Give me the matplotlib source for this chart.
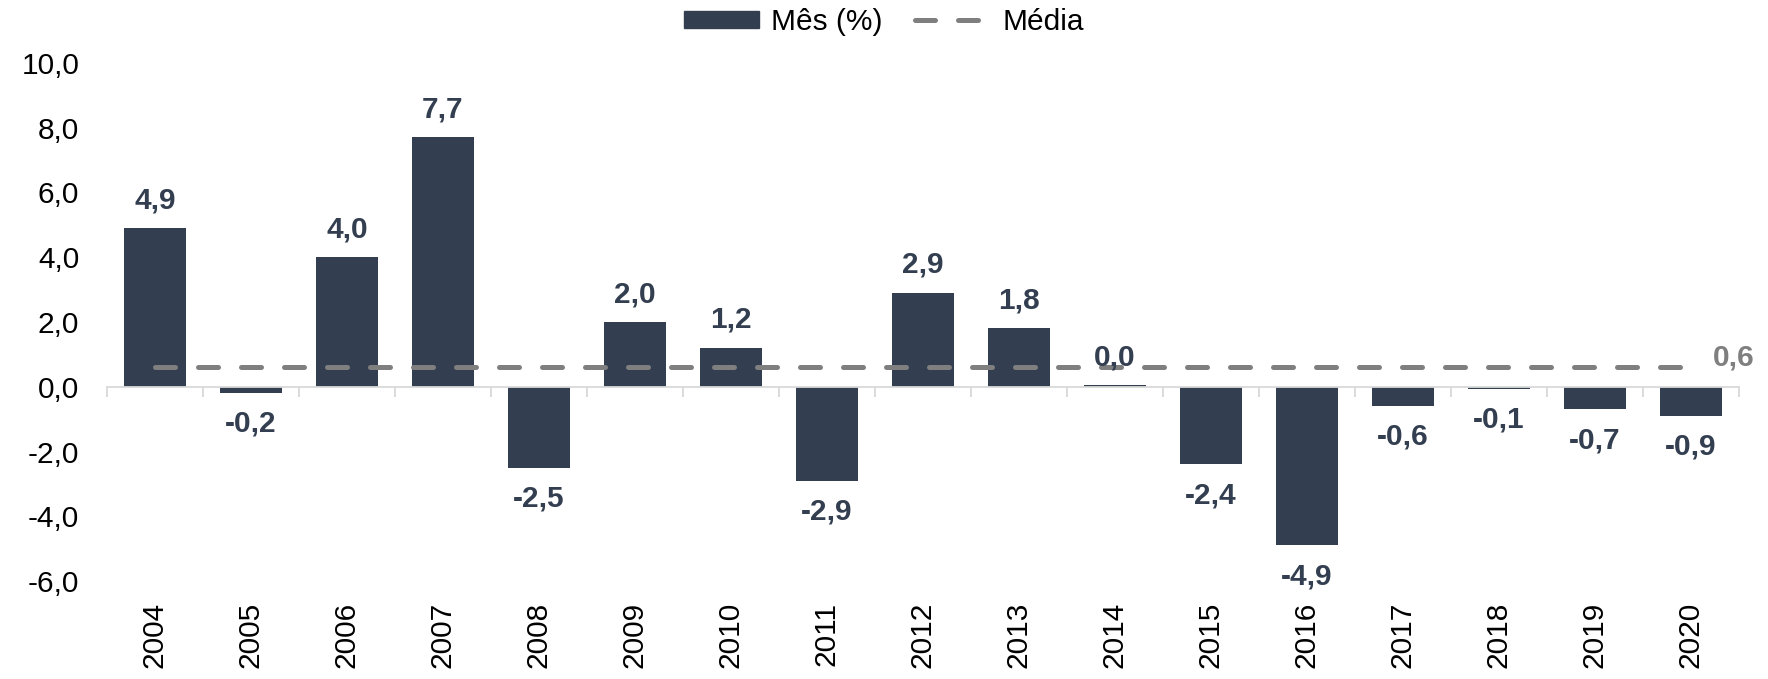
import numpy as np
import matplotlib
matplotlib.use("Agg")
import matplotlib.pyplot as plt
from matplotlib.patches import Patch
from matplotlib.lines import Line2D

years = ['2004', '2005', '2006', '2007', '2008', '2009', '2010', '2011', '2012',
         '2013', '2014', '2015', '2016', '2017', '2018', '2019', '2020']
mes = [4.9, -0.2, 4.0, 7.7, -2.5, 2.0, 1.2, -2.9, 2.9,
       1.8, 0.04, -2.4, -4.9, -0.6, -0.08, -0.7, -0.9]
media = 0.6
yticks = [-6, -4, -2, 0, 2, 4, 6, 8, 10]

navy = '#333F50'
grey = '#7F7F7F'
fs = 21.5
plt.rcParams['font.family'] = ['Liberation Sans', 'DejaVu Sans']

fig = plt.figure(figsize=(17.68, 6.79), dpi=100)
ax = fig.add_axes([0.0605, 0.1443, 0.923, 0.763])

x = np.arange(len(years))
ax.bar(x, mes, width=0.65, color=navy, zorder=2)

# media line
ax.plot([x[0], x[-1]], [media, media], color=grey, lw=3.6,
        dashes=(4, 4.6), dash_capstyle='round', zorder=3)
ax.annotate(f'{media:.1f}'.replace('.', ','), (x[-1], media), xytext=(16, 7),
            textcoords='offset points', ha='left', va='center',
            color=grey, fontsize=fs, fontweight='bold')

# data labels
for xi, v in zip(x, mes):
    lab = f'{v:.1f}'.replace('.', ',')
    if v >= 0:
        ax.annotate(lab, (xi, v), xytext=(0, 10), textcoords='offset points',
                    ha='center', va='bottom', color=navy, fontsize=fs,
                    fontweight='bold', zorder=4)
    else:
        ax.annotate(lab, (xi, v), xytext=(0, -12), textcoords='offset points',
                    ha='center', va='top', color=navy, fontsize=fs,
                    fontweight='bold', zorder=4)

ax.set_xlim(-0.5, len(years) - 0.5)
ax.set_ylim(-6, 10)
ax.set_yticks(yticks)
ax.set_yticklabels([f'{t:.1f}'.replace('.', ',') for t in yticks], fontsize=fs)
ax.tick_params(axis='y', length=0, pad=20)

for s in ['top', 'right', 'left']:
    ax.spines[s].set_visible(False)
ax.spines['bottom'].set_position(('data', 0))
ax.spines['bottom'].set_color('#D9D9D9')
ax.spines['bottom'].set_linewidth(1.3)
ax.set_xticks(np.arange(len(years) + 1) - 0.5)
ax.set_xticklabels([])
ax.tick_params(axis='x', length=7, width=1.3, color='#D9D9D9', direction='out')

sec = ax.secondary_xaxis('bottom')
sec.set_xticks(x)
sec.set_xticklabels(years, rotation=90, fontsize=fs)
sec.tick_params(length=0, pad=15)
sec.spines['bottom'].set_visible(False)

handles = [Patch(color=navy),
           Line2D([], [], color=grey, lw=3.6, dashes=(4, 4.6), dash_capstyle='round')]
fig.legend(handles, ['Mês (%)', 'Média'], loc='center', bbox_to_anchor=(0.5, 0.968),
           ncol=2, frameon=False, fontsize=fs, handlelength=2.5, handleheight=0.5,
           handletextpad=0.4, columnspacing=1.1)

fig.savefig('out.png', dpi=100)
